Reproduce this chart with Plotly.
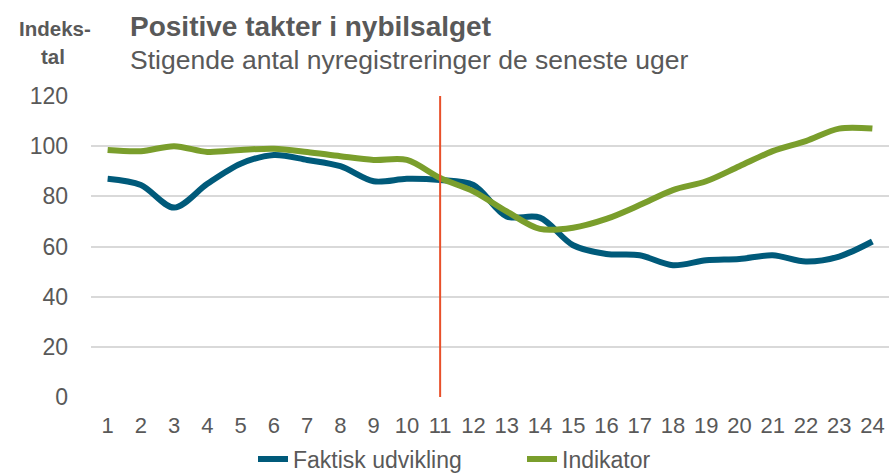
import plotly.graph_objects as go

weeks = list(range(1, 25))
faktisk = [87, 84.5, 75.5, 85, 93, 96.5, 94.5, 92, 86, 87, 86.5, 84.5, 72, 71.5, 60.5, 57, 56.5, 52.5, 54.5, 55, 56.5, 54, 56, 62]
indikator = [98.5, 98, 100, 97.7, 98.5, 99, 97.7, 96, 94.5, 94.5, 87.3, 82, 74, 67, 67.5, 71, 76.5, 82.5, 86, 92, 98, 102, 107, 107]
marker_week = 11
y_ticks = [0, 20, 40, 60, 80, 100, 120]

FONT = "Liberation Sans, Arial, sans-serif"
GREY = "#595959"

W, H = 889, 473
pl, pr, pt, pb = 91, 0, 96, 76
pw, ph = W - pl - pr, H - pt - pb


def px_x(x):
    return (x - pl) / pw


def px_y(y):
    return (H - pb - y) / ph


fig = go.Figure()
fig.add_trace(go.Scatter(x=weeks, y=faktisk, mode="lines", name="Faktisk udvikling",
                         line=dict(color="#005A7A", width=6, shape="spline", smoothing=0.9)))
fig.add_trace(go.Scatter(x=weeks, y=indikator, mode="lines", name="Indikator",
                         line=dict(color="#7A9E2C", width=6, shape="spline", smoothing=0.9)))

fig.add_shape(type="line", x0=marker_week, x1=marker_week, y0=0, y1=120, xref="x", yref="y",
              line=dict(color="#E8502A", width=2), layer="above")

fig.update_layout(
    width=W, height=H,
    margin=dict(l=pl, r=pr, t=pt, b=pb, autoexpand=False),
    paper_bgcolor="white", plot_bgcolor="white",
    font=dict(family=FONT, size=23, color=GREY),
    showlegend=True,
    legend=dict(orientation="h", x=px_x(522), xanchor="center", y=px_y(459), yanchor="middle",
                font=dict(size=23, color=GREY), bgcolor="rgba(0,0,0,0)", tracegroupgap=0,
                itemwidth=30, entrywidth=224, entrywidthmode="pixels"),
    xaxis=dict(range=[0.5, 24.5], tickmode="array", tickvals=weeks, ticktext=[str(w) for w in weeks],
               showgrid=False, zeroline=False, showline=False, ticks="", ticklabelstandoff=13,
               tickfont=dict(size=22, color=GREY)),
    yaxis=dict(range=[0, 120], tickmode="array", tickvals=y_ticks, showgrid=True,
               gridcolor="#D9D9D9", gridwidth=1.5, zeroline=False, showline=False, ticks="",
               ticklabelstandoff=22, tickfont=dict(size=23, color=GREY)),
    annotations=[
        dict(text="<b>Positive takter i nybilsalget</b>", x=px_x(128), y=px_y(27),
             showarrow=False, xanchor="left", yanchor="middle", font=dict(size=28, color=GREY)),
        dict(text="Stigende antal nyregistreringer de seneste uger", x=px_x(128), y=px_y(60),
             showarrow=False, xanchor="left", yanchor="middle", font=dict(size=26.5, color=GREY)),
        dict(text="<b>Indeks-</b>", x=px_x(55), y=px_y(28), showarrow=False, xanchor="center",
             yanchor="middle", font=dict(size=20.5, color=GREY)),
        dict(text="<b>tal</b>", x=px_x(53), y=px_y(57), showarrow=False, xanchor="center",
             yanchor="middle", font=dict(size=20.5, color=GREY)),
    ],
)
for a in fig.layout.annotations:
    a.update(xref="paper", yref="paper")

fig.write_html("out.html", config={"displayModeBar": False},
               post_script="document.body.style.margin='0';document.body.style.padding='0';")
